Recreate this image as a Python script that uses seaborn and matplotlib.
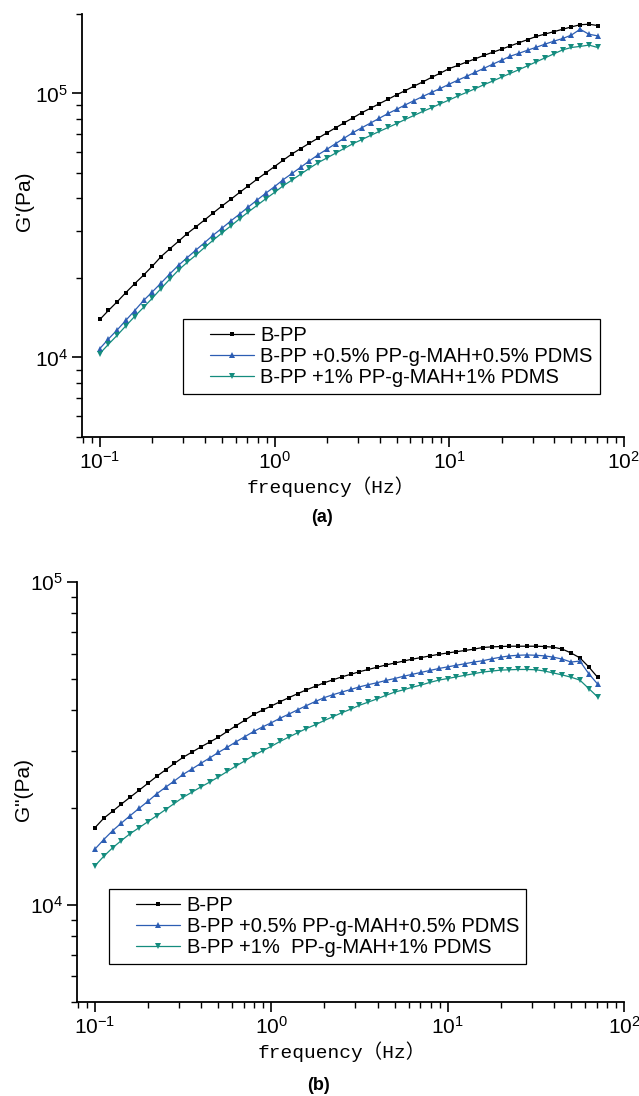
import matplotlib
matplotlib.use("Agg")
import matplotlib.pyplot as plt
import seaborn as sns
from matplotlib.lines import Line2D
from matplotlib.legend_handler import HandlerLine2D
from matplotlib.ticker import NullFormatter

# frequency sweep (Hz), 20 points per decade
freq = [0.1, 0.112, 0.126, 0.141, 0.158, 0.178, 0.2, 0.224, 0.251, 0.282,
        0.316, 0.355, 0.398, 0.447, 0.501, 0.562, 0.631, 0.708, 0.794, 0.891,
        1.0, 1.12, 1.26, 1.41, 1.58, 1.78, 2.0, 2.24, 2.51, 2.82,
        3.16, 3.55, 3.98, 4.47, 5.01, 5.62, 6.31, 7.08, 7.94, 8.91,
        10.0, 11.2, 12.6, 14.1, 15.8, 17.8, 20.0, 22.4, 25.1, 28.2,
        31.6, 35.5, 39.8, 44.7, 50.1, 56.2, 63.1, 70.8]

labels_a = ["B-PP", "B-PP +0.5% PP-g-MAH+0.5% PDMS", "B-PP +1% PP-g-MAH+1% PDMS"]
labels_b = ["B-PP", "B-PP +0.5% PP-g-MAH+0.5% PDMS", "B-PP +1%  PP-g-MAH+1% PDMS"]

# storage modulus G' (Pa)
gp_bpp = [13930, 15070, 16290, 17620, 19010, 20510, 22200, 24100, 25770, 27540,
          29450, 31260, 33190, 35320, 37500, 39720, 42170, 44670, 47320, 50000,
          52850, 55850, 59020, 61800, 64720, 67770, 70960, 74130, 77440, 80910,
          84520, 87900, 91410, 95060, 98850, 102570, 106660, 110660, 115080, 119400,
          124170, 127640, 131520, 135210, 139300, 143220, 147230, 151360, 155590, 159960,
          164430, 167890, 171390, 174990, 178650, 181970, 182820, 180710]
gp_05 = [10810, 11750, 12740, 13840, 15030, 16440, 17740, 19140, 20700, 22340,
         23880, 25530, 27230, 29110, 30900, 32890, 34920, 37150, 39450, 41880,
         44360, 47100, 49780, 52480, 55460, 58610, 61520, 64570, 67770, 71120,
         74130, 77270, 80540, 83950, 87100, 90570, 93970, 97500, 100930, 104470,
         108390, 112200, 116140, 120230, 124450, 129130, 133660, 138360, 141900, 145880,
         149620, 153810, 157750, 161440, 166340, 174990, 167490, 165190]
gp_1 = [10350, 11220, 12160, 13180, 14290, 15490, 16790, 18240, 19770, 21430,
        22910, 24430, 26120, 27860, 29650, 31480, 33500, 35560, 37670, 39900,
        42170, 44670, 46990, 49430, 52000, 54700, 57020, 59430, 61940, 64570,
        66840, 69340, 71780, 74300, 76910, 79800, 82600, 85510, 88310, 91410,
        94410, 97720, 100930, 104230, 107890, 111430, 115350, 119120, 123030, 127350,
        131830, 136460, 141250, 146210, 149280, 150660, 152400, 149280]

# loss modulus G'' (Pa)
gpp_bpp = [17340, 18540, 19500, 20510, 21530, 22650, 23820, 25000, 26180, 27420,
           28640, 29720, 30830, 31920, 33040, 34430, 35890, 37320, 38900, 40090,
           41300, 42560, 43850, 45080, 46340, 47530, 48750, 49780, 50820, 51760,
           52730, 53580, 54450, 55340, 56100, 56890, 57680, 58340, 59020, 59700,
           60260, 60810, 61380, 61940, 62660, 62950, 63100, 63240, 63240, 63240,
           63240, 63100, 62810, 61940, 60260, 58210, 54580, 50700]
gpp_05 = [14890, 15920, 16980, 17910, 18880, 19910, 20940, 22080, 23120, 24210,
          25350, 26360, 27420, 28510, 29650, 30760, 31990, 33190, 34430, 35560,
          36640, 37840, 38990, 40180, 41400, 42660, 43850, 44770, 45600, 46450,
          47320, 48080, 48750, 49550, 50230, 51050, 51760, 52480, 53210, 53950,
          54580, 55210, 55850, 56490, 57020, 57810, 58480, 59020, 59290, 59430,
          59290, 59020, 58480, 57680, 56490, 56890, 52000, 48310]
gpp_1 = [13210, 14130, 15030, 15810, 16600, 17340, 18110, 18880, 19720, 20610,
         21530, 22340, 23170, 23990, 24890, 25880, 26920, 27920, 29040, 29990,
         30970, 32060, 33110, 34120, 35160, 36140, 37240, 38280, 39360, 40360,
         41500, 42460, 43450, 44560, 45600, 46340, 47210, 47970, 48860, 49660,
         50230, 50820, 51410, 52000, 52600, 52970, 53330, 53460, 53580, 53580,
         53460, 52970, 52240, 51520, 50700, 49660, 46770, 44060]

colors = ["#000000", "#2c5db3", "#148c7e"]
markers = ["s", "^", "v"]
msizes = [3.0, 4.6, 4.6]

sns.set_theme(style="ticks")
plt.rcParams['font.family'] = ['Liberation Sans', 'DejaVu Sans']
plt.rcParams['mathtext.fontset'] = 'custom'
plt.rcParams['mathtext.rm'] = 'Liberation Sans'
plt.rcParams['mathtext.default'] = 'regular'
plt.rcParams['text.color'] = 'black'
plt.rcParams['axes.labelcolor'] = 'black'
plt.rcParams['xtick.color'] = 'black'
plt.rcParams['ytick.color'] = 'black'

fig = plt.figure(figsize=(6.39, 10.96), dpi=100)
ax1 = fig.add_axes([0.1283, 0.6013, 0.848, 0.386])
ax2 = fig.add_axes([0.1205, 0.0858, 0.856, 0.3832])


def draw(ax, series, labels, ylim, ylabel, lab_xy, leg_anchor, xlab_xy):
    for vals, lab, c, m, ms in zip(series, labels, colors, markers, msizes):
        sns.lineplot(x=freq, y=vals, ax=ax, color=c, marker=m, markersize=ms,
                     markeredgewidth=0, linewidth=0.9, label=lab)
    ax.set_xscale('log')
    ax.set_yscale('log')
    ax.set_xlim(0.079, 100)
    ax.set_ylim(*ylim)
    sns.despine(ax=ax)
    for s in ['left', 'bottom']:
        ax.spines[s].set_linewidth(1.3)
        ax.spines[s].set_color('black')
    ax.tick_params(which='major', direction='out', length=7, width=1.2,
                   labelsize=15, colors='black', pad=3)
    ax.tick_params(which='minor', direction='out', length=4, width=1.0, colors='black')
    ax.xaxis.set_minor_formatter(NullFormatter())
    ax.yaxis.set_minor_formatter(NullFormatter())
    ax.set_ylabel(ylabel, fontsize=15)
    ax.yaxis.set_label_coords(*lab_xy)
    ax.set_xlabel('frequency（Hz）', fontsize=14,
                  family=['Liberation Mono', 'Noto Sans CJK SC'])
    ax.xaxis.set_label_coords(*xlab_xy)
    leg = ax.legend(loc='lower left', bbox_to_anchor=leg_anchor, borderaxespad=0,
                    fontsize=14.5, frameon=True, fancybox=False, framealpha=1,
                    borderpad=0.35, labelspacing=0.1, handlelength=3.2,
                    handletextpad=0.3, numpoints=1,
                    handler_map={Line2D: HandlerLine2D(xpad=1.0)})
    leg.get_frame().set_edgecolor('black')
    leg.get_frame().set_linewidth(0.9)


draw(ax1, [gp_bpp, gp_05, gp_1], labels_a, (5000, 2e5), "G'(Pa)",
     (-0.088, 0.558), (0.186, 0.102), (0.459, -0.092))
draw(ax2, [gpp_bpp, gpp_05, gpp_1], labels_b, (5000, 1e5), 'G"(Pa)',
     (-0.080, 0.505), (0.0585, 0.0905), (0.484, -0.093))

fig.text(322 / 639, 1 - 517 / 1096, '(a)', ha='center', va='center',
         fontsize=13, weight='bold')
fig.text(318 / 639, 1 - 1085 / 1096, '(b)', ha='center', va='center',
         fontsize=13, weight='bold')

fig.savefig('out.png', dpi=100)
